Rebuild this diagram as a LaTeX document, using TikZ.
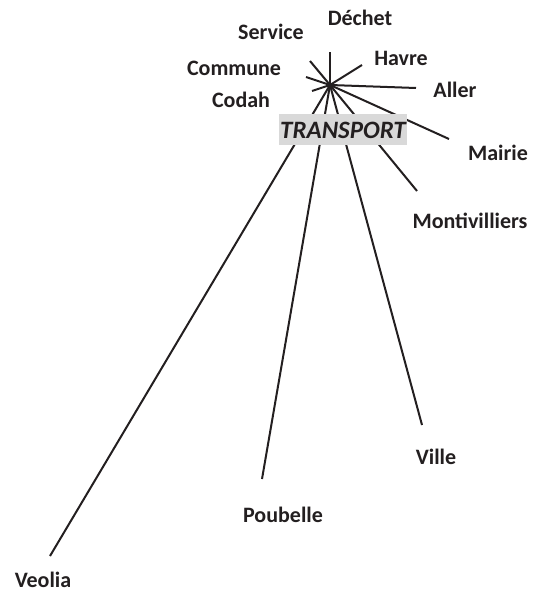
\documentclass[tikz,border=0pt]{standalone}
\usepackage{fontspec}
\setmainfont{Carlito}
\usetikzlibrary{positioning}
\definecolor{ink}{HTML}{231F20}
\definecolor{tagfill}{HTML}{D9D9D9}

\begin{document}
\begin{tikzpicture}[x=1pt, y=-1pt,
  word/.style={font=\bfseries\fontsize{22}{26}\selectfont, text=ink, inner sep=0pt},
  hubword/.style={font=\bfseries\itshape\fontsize{25}{29}\selectfont, text=ink, fill=tagfill, minimum width=128pt, minimum height=31pt, inner sep=0pt},
  spoke/.style={draw=ink, line width=2pt}
]
  \useasboundingbox (0,0) rectangle (537,593);

  % centre of the star
  \coordinate (hub) at (330,85);

  % free ends of the spokes
  \coordinate (eDechet) at (330,52);
  \coordinate (eHavre) at (362,65);
  \coordinate (eAller) at (416,88);
  \coordinate (eMairie) at (449,139);
  \coordinate (eMontiv) at (417,191);
  \coordinate (eService) at (310,61);
  \coordinate (eCommune) at (306,77);
  \coordinate (eCodah) at (312,91);
  \coordinate (eVille) at (422,425);
  \coordinate (ePoubelle) at (262,479);
  \coordinate (eVeolia) at (50,556);

  \foreach \e in {eDechet, eHavre, eAller, eMairie, eMontiv, eService, eCommune, eCodah, eVille, ePoubelle, eVeolia}
    \draw[spoke] (hub) -- (\e);

  \node[hubword] (transport) at (343,130) {TRANSPORT};

  \node[word] (dechet) at (360,18) {Déchet};
  \node[word] (service) at (271,32) {Service};
  \node[word] (havre) at (401,58) {Havre};
  \node[word] (commune) at (234,68) {Commune};
  \node[word] (aller) at (455,90) {Aller};
  \node[word] (codah) at (241,100) {Codah};
  \node[word] (mairie) at (498,153) {Mairie};
  \node[word] (montiv) at (470,221) {Montivilliers};
  \node[word] (ville) at (436,457) {Ville};
  \node[word] (poubelle) at (283,515) {Poubelle};
  \node[word] (veolia) at (43,580) {Veolia};
\end{tikzpicture}
\end{document}
